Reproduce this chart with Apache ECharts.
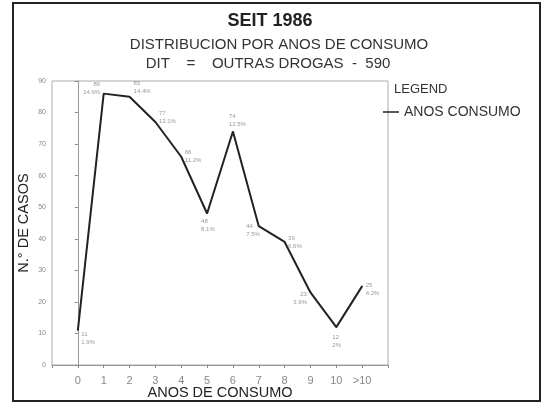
<!DOCTYPE html>
<html>
<head>
<meta charset="utf-8">
<script src="https://cdn.jsdelivr.net/npm/echarts@6/dist/echarts.min.js"></script>
<style>
  html, body { margin: 0; padding: 0; background: #fff; }
  #chart { width: 543px; height: 405px; }
</style>
</head>
<body>
<div id="chart"></div>
<script>
// anos de consumo (x categories)
const categories = ['0', '1', '2', '3', '4', '5', '6', '7', '8', '9', '10', '>10'];
const casos = [11, 86, 85, 77, 66, 48, 74, 44, 39, 23, 12, 25];
const percents = ['1.9%', '14.6%', '14.4%', '13.1%', '11.2%', '8.1%', '12.5%', '7.5%', '6.6%', '3.9%', '2%', '4.2%'];
const yTicks = [0, 10, 20, 30, 40, 50, 60, 70, 80, 90];

// where each point label sits
const labelPos = ['right', 'left', 'top', 'right', 'right', 'bottom', 'top', 'left', 'right', 'left', 'bottom', 'right'];
const labelAlign = ['left', 'right', 'left', 'left', 'left', 'left', 'left', 'left', 'left', 'right', 'left', 'left'];
const labelOffset = [[0, 8], [0, -5], [4, 2], [0, -5], [0, 0], [-6, 0], [-4, 0], [-9, 4], [0, 0], [0, 6], [-4, 3], [0, 3]];

const myChart = echarts.init(document.getElementById('chart'));

const seriesData = casos.map((v, i) => ({
  value: [i, v],
  label: {
    position: labelPos[i],
    align: labelAlign[i],
    offset: labelOffset[i]
  }
}));

const option = {
  backgroundColor: '#ffffff',
  animation: false,
  title: [
    {
      text: 'SEIT 1986',
      left: 265,
      top: 7,
      textAlign: 'center',
      textStyle: { fontFamily: 'Liberation Sans', fontSize: 18, fontWeight: 'bold', color: '#222' }
    },
    {
      text: 'DISTRIBUCION POR ANOS DE CONSUMO',
      left: 274,
      top: 32,
      textAlign: 'center',
      textStyle: { fontFamily: 'Liberation Sans', fontSize: 15, fontWeight: 'normal', color: '#333' }
    },
    {
      text: 'DIT    =    OUTRAS DROGAS  -  590',
      left: 263,
      top: 51,
      textAlign: 'center',
      textStyle: { fontFamily: 'Liberation Sans', fontSize: 15, fontWeight: 'normal', color: '#333' }
    },
    {
      text: 'LEGEND',
      left: 389,
      top: 78,
      textStyle: { fontFamily: 'Liberation Sans', fontSize: 13, fontWeight: 'normal', color: '#333' }
    }
  ],
  legend: {
    left: 378,
    top: 100,
    icon: 'rect',
    itemWidth: 16,
    itemHeight: 1.5,
    itemGap: 4,
    data: ['ANOS CONSUMO'],
    textStyle: { fontFamily: 'Liberation Sans', fontSize: 14, color: '#333' }
  },
  graphic: [
    {
      type: 'rect',
      shape: { x: 13, y: 3, width: 527, height: 398 },
      style: { fill: 'none', stroke: '#222', lineWidth: 2 }
    }
  ],
  grid: {
    left: 52,
    right: 155,
    top: 81,
    bottom: 39,
    show: true,
    borderColor: '#aaa',
    borderWidth: 1
  },
  xAxis: {
    type: 'value',
    min: -1,
    max: 12,
    interval: 1,
    name: 'ANOS DE CONSUMO',
    nameLocation: 'middle',
    nameGap: 20,
    nameMoveOverlap: false,
    nameTextStyle: { fontFamily: 'Liberation Sans', fontSize: 14.5, color: '#222' },
    axisLine: { show: true, lineStyle: { color: '#999' } },
    axisTick: { show: true, length: 3, lineStyle: { color: '#888' } },
    splitLine: { show: false },
    axisLabel: {
      fontFamily: 'Liberation Sans',
      fontSize: 11,
      color: '#888',
      margin: 10,
      formatter: (v) => categories[v] !== undefined ? categories[v] : ''
    }
  },
  yAxis: {
    type: 'value',
    min: yTicks[0],
    max: yTicks[yTicks.length - 1],
    interval: 10,
    name: 'N.° DE CASOS',
    nameLocation: 'middle',
    nameGap: 21,
    nameMoveOverlap: false,
    nameRotate: 90,
    nameTextStyle: { fontFamily: 'Liberation Sans', fontSize: 14.5, color: '#222' },
    axisLine: { show: true, lineStyle: { color: '#999' } },
    axisTick: { show: true, length: 3, lineStyle: { color: '#888' } },
    splitLine: { show: false },
    axisLabel: {
      fontFamily: 'Liberation Sans',
      fontSize: 7,
      color: '#888',
      margin: 6
    }
  },
  series: [
    {
      name: 'ANOS CONSUMO',
      type: 'line',
      data: seriesData,
      symbol: 'circle',
      symbolSize: 1,
      showSymbol: true,
      lineStyle: { color: '#222', width: 2 },
      itemStyle: { color: '#222' },
      label: {
        show: true,
        distance: 3,
        fontFamily: 'Liberation Sans',
        fontSize: 6,
        lineHeight: 8,
        color: '#999',
        formatter: (p) => casos[p.dataIndex] + '\n' + percents[p.dataIndex]
      }
    }
  ]
};

option && myChart.setOption(option);
</script>
</body>
</html>
